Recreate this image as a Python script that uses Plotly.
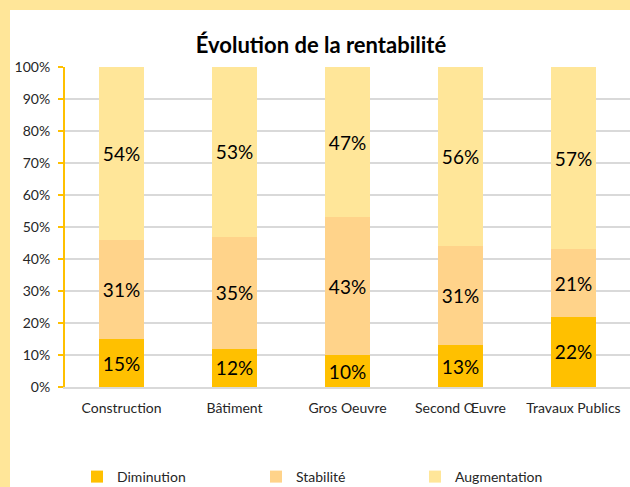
import plotly.graph_objects as go

categories = ["Construction", "Bâtiment", "Gros Oeuvre", "Second Œuvre", "Travaux Publics"]
diminution = [15, 12, 10, 13, 22]
stabilite = [31, 35, 43, 31, 21]
augmentation = [54, 53, 47, 56, 57]
series = [("Diminution", diminution, "#FFC000"),
          ("Stabilité", stabilite, "#FFD38A"),
          ("Augmentation", augmentation, "#FFE699")]
ytick_vals = list(range(0, 101, 10))
ytick_text = [f"{v}%" for v in ytick_vals]

FONT = "Lato"
W, H = 630, 487
L, R, T, B = 65, 0, 67, 100
pw, ph = W - L - R, H - T - B
def px(x): return (x - L) / pw
def py(y): return (H - B - y) / ph

legend_names = ["legend", "legend2", "legend3"]
legend_text_x = [117, 296, 455]

fig = go.Figure()
for (name, vals, col), lg in zip(series, legend_names):
    fig.add_trace(go.Bar(
        name=name, x=categories, y=vals, marker=dict(color=col, line=dict(width=0)),
        text=[f"{v}%" for v in vals], textposition="inside", insidetextanchor="middle",
        textfont=dict(family=FONT, size=19, color="#000000"), constraintext="none",
        hoverinfo="skip", legend=lg))

legend_common = dict(orientation="h", xanchor="left", yanchor="middle", y=py(477),
                     font=dict(family=FONT, size=14, color="#262626"), itemwidth=30,
                     itemclick=False, bgcolor="rgba(0,0,0,0)")

fig.update_layout(
    width=W, height=H, barmode="stack", bargap=0.6,
    margin=dict(l=L, r=R, t=T, b=B, autoexpand=False),
    paper_bgcolor="white", plot_bgcolor="white",
    font=dict(family=FONT, size=14, color="#262626"),
    title=dict(text="<b>Évolution de la rentabilité</b>", x=321 / W, xanchor="center",
               y=1 - 45 / H, yanchor="middle", font=dict(family=FONT, size=22, color="#000000")),
    showlegend=True,
    legend=dict(x=px(legend_text_x[0] - 40), **legend_common),
    legend2=dict(x=px(legend_text_x[1] - 40), **legend_common),
    legend3=dict(x=px(legend_text_x[2] - 40), **legend_common),
    xaxis=dict(showline=True, linecolor="#D9D9D9", linewidth=2, ticks="",
               ticklabelstandoff=7,
               tickfont=dict(family=FONT, size=14, color="#262626"), fixedrange=True),
    yaxis=dict(range=[0, 100], tickvals=ytick_vals, ticktext=ytick_text,
               showgrid=True, gridcolor="#D9D9D9", gridwidth=1.5,
               showline=True, linecolor="#FFC000", linewidth=2,
               ticks="outside", ticklen=5, tickcolor="#FFC000", tickwidth=2,
               ticklabelstandoff=5,
               tickfont=dict(family=FONT, size=14, color="#262626"), zeroline=False,
               fixedrange=True),
    shapes=[
        dict(type="rect", xref="paper", yref="paper", x0=px(-5), x1=px(10), y0=py(H + 5), y1=py(-5),
             fillcolor="#FFE699", line=dict(width=0), layer="above"),
        dict(type="rect", xref="paper", yref="paper", x0=px(-5), x1=px(W + 5), y0=py(10), y1=py(-5),
             fillcolor="#FFE699", line=dict(width=0), layer="above"),
    ],
)
fig.write_html("out.html", config={"displayModeBar": False, "staticPlot": True},
               post_script="document.body.style.margin='0';document.body.style.padding='0';")
